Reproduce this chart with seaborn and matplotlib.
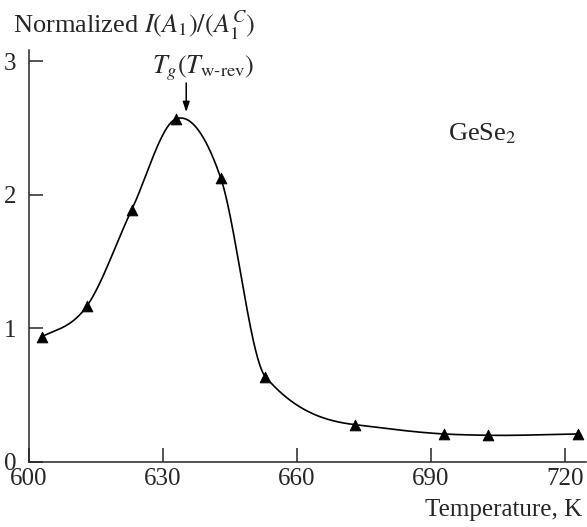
import numpy as np
import pandas as pd
import matplotlib
matplotlib.use("Agg")
import matplotlib.pyplot as plt
import seaborn as sns

temperature = [602.9, 613.0, 623.0, 632.9, 642.9, 652.9, 672.9, 692.9, 702.8, 722.9]
intensity = [0.94, 1.17, 1.89, 2.57, 2.13, 0.64, 0.28, 0.21, 0.20, 0.21]
x_ticks = [600, 630, 660, 690, 720]
y_ticks = [0, 1, 2, 3]


def smooth(x, y, xs):
    x = np.asarray(x, float); y = np.asarray(y, float)
    h = np.diff(x); d = np.diff(y) / h
    n = len(x); m = np.zeros(n)
    for k in range(1, n - 1):
        m[k] = (h[k - 1] * d[k] + h[k] * d[k - 1]) / (h[k - 1] + h[k])
    m[0] = d[0] * 0.7; m[-1] = d[-1]
    lim = 2.2
    for k in range(n - 1):
        if d[k] == 0:
            m[k] = m[k + 1] = 0
            continue
        a = m[k] / d[k]; b = m[k + 1] / d[k]
        if a > 0 and b > 0 and a * a + b * b > lim * lim:
            t = lim / np.sqrt(a * a + b * b)
            m[k] = t * a * d[k]; m[k + 1] = t * b * d[k]
    idx = np.clip(np.searchsorted(x, xs) - 1, 0, n - 2)
    t = (xs - x[idx]) / h[idx]
    h00 = 2 * t**3 - 3 * t**2 + 1; h10 = t**3 - 2 * t**2 + t
    h01 = -2 * t**3 + 3 * t**2; h11 = t**3 - t**2
    return h00 * y[idx] + h10 * h[idx] * m[idx] + h01 * y[idx + 1] + h11 * h[idx] * m[idx + 1]


sns.set_style("ticks")
plt.rcParams["font.family"] = ["Liberation Serif", "DejaVu Serif"]
plt.rcParams["mathtext.fontset"] = "stix"

fs = 18
fig = plt.figure(figsize=(5.87, 5.27), dpi=100)
ax = fig.add_axes([29 / 587, 1 - 462 / 527, (586 - 29) / 587, (462 - 50) / 527])

xs = np.linspace(min(temperature), max(temperature), 800)
curve = pd.DataFrame({"T": xs, "I": smooth(temperature, intensity, xs)})
pts = pd.DataFrame({"T": temperature, "I": intensity})

sns.lineplot(data=curve, x="T", y="I", ax=ax, color="black", lw=1.2)
sns.scatterplot(data=pts, x="T", y="I", ax=ax, marker="^", s=60, color="black",
                edgecolor="black", zorder=3)

ax.set_xlim(600, 724.7)
ax.set_ylim(0, 3.086)
ax.set_xticks(x_ticks)
ax.set_yticks(y_ticks)
ax.tick_params(direction="in", length=10, width=1.1, labelsize=fs, pad=4)
ax.tick_params(axis="y", pad=9)
for s in ["top", "right"]:
    ax.spines[s].set_visible(False)
for s in ["left", "bottom"]:
    ax.spines[s].set_linewidth(1.1)
ax.set_xlabel("")
ax.set_ylabel("")

fig.text(582 / 587, 1 - 510 / 527, "Temperature, K", ha="right", va="center", fontsize=fs)
fig.text(13 / 587, 1 - 25 / 527, r"Normalized $I(A_1)/(A_1^C)$", ha="left", va="center", fontsize=19)

ax.annotate("", xy=(635.2, 2.6), xytext=(635.2, 2.86),
            arrowprops=dict(arrowstyle="-|>,head_length=0.6,head_width=0.2", color="black", lw=1.1))
ax.text(639, 2.95, r"$T_g(T_{\mathrm{w\text{-}rev}})$", ha="center", va="center", fontsize=19)
ax.text(701.4, 2.46, r"GeSe$_2$", ha="center", va="center", fontsize=19)

fig.savefig("out.png", dpi=100)
